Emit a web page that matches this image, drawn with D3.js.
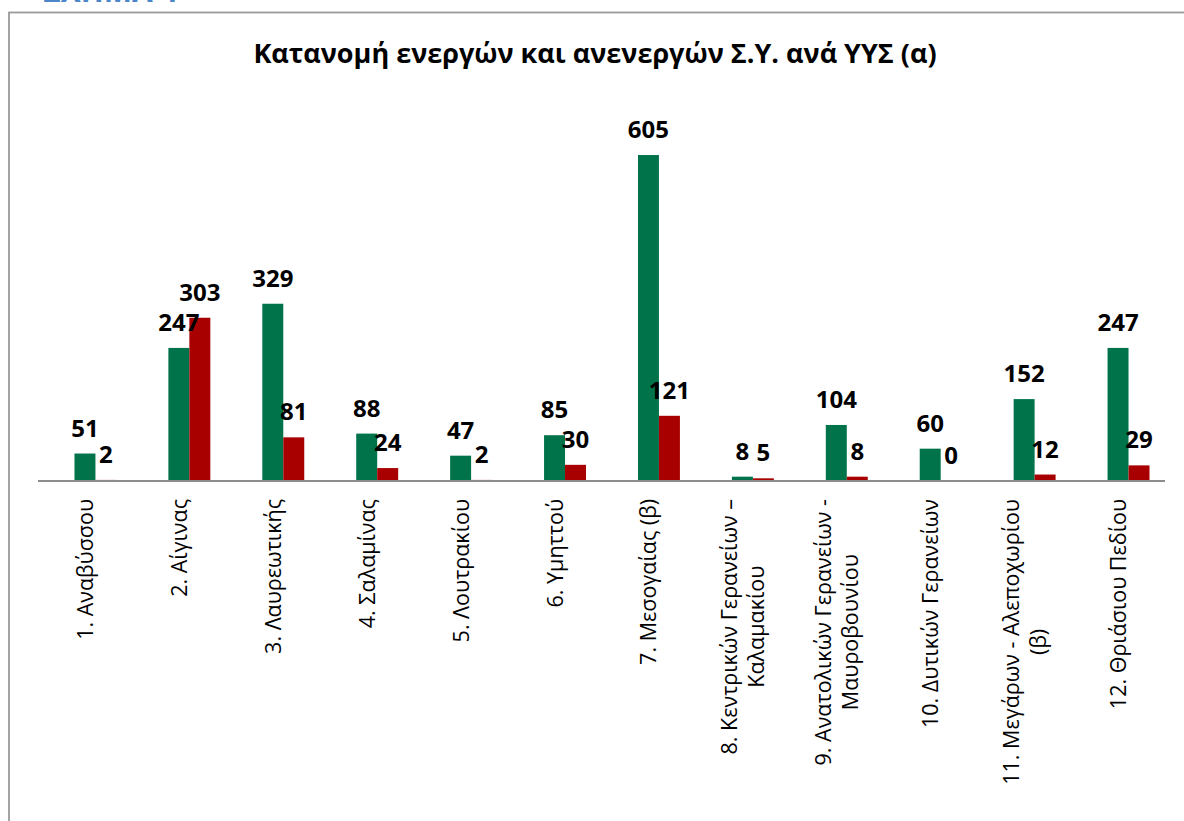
<!DOCTYPE html>
<html>
<head>
<meta charset="utf-8">
<script src="https://cdn.jsdelivr.net/npm/d3@7"></script>
<style>
  html, body { margin: 0; padding: 0; background: #fff; }
  svg { display: block; }
</style>
</head>
<body>
<svg id="chart" width="1184" height="821"></svg>
<script>
// δεδομένα
const categories = [
  "1. Αναβύσσου",
  "2. Αίγινας",
  "3. Λαυρεωτικής",
  "4. Σαλαμίνας",
  "5. Λουτρακίου",
  "6. Υμηττού",
  "7. Μεσογαίας (β)",
  "8. Κεντρικών Γερανείων –\nΚαλαμακίου",
  "9. Ανατολικών Γερανείων -\nΜαυροβουνίου",
  "10. Δυτικών Γερανείων",
  "11. Μεγάρων - Αλεποχωρίου\n(β)",
  "12. Θριάσιου Πεδίου"
];
const active   = [51, 247, 329, 88, 47, 85, 605, 8, 104, 60, 152, 247];
const inactive = [2, 303, 81, 24, 2, 30, 121, 5, 8, 0, 12, 29];
const seriesKeys = ["blank", "active", "inactive"];
const title = "Κατανομή ενεργών και ανενεργών Σ.Υ. ανά ΥΥΣ (α)";

const colors = { active: "#00734b", inactive: "#a80000" };
const font = "'Open Sans', 'Noto Sans', sans-serif";

const svg = d3.select("#chart");

// κεφαλίδα (κομμένη στην κορυφή)
svg.append("text")
  .attr("x", 43).attr("y", 1.5)
  .attr("font-family", font)
  .attr("font-size", "30px")
  .attr("font-weight", "700")
  .attr("fill", "#4a86c8")
  .text("ΣΧΗΜΑ 4");

// πλαίσιο
svg.append("rect")
  .attr("x", 9).attr("y", 12.5)
  .attr("width", 1300).attr("height", 900)
  .attr("fill", "#fff")
  .attr("stroke", "#9a9a9a")
  .attr("stroke-width", 1.8);

// τίτλος
svg.append("text")
  .attr("x", 595).attr("y", 63)
  .attr("text-anchor", "middle")
  .attr("font-family", font)
  .attr("font-size", "27px")
  .attr("font-weight", "700")
  .attr("fill", "#000")
  .text(title);

const axisLeft = 38, axisRight = 1165, baseY = 481;

const x0 = d3.scaleBand()
  .domain(categories)
  .range([axisLeft, axisRight])
  .paddingInner(0.33)
  .paddingOuter(0.165);

const x1 = d3.scaleBand()
  .domain(seriesKeys)
  .range([0, x0.bandwidth()]);

const y = d3.scaleLinear()
  .domain([0, 700])
  .range([baseY, baseY - 700 * 0.5388]);

const rows = categories.map((c, i) => ({ cat: c, active: active[i], inactive: inactive[i] }));

const groups = svg.append("g").selectAll("g")
  .data(rows)
  .join("g")
  .attr("transform", d => `translate(${x0(d.cat)},0)`);

// μπάρες
groups.selectAll("rect")
  .data(d => ["active", "inactive"].map(k => ({ key: k, value: d[k] })))
  .join("rect")
  .attr("x", d => x1(d.key))
  .attr("y", d => y(d.value))
  .attr("width", x1.bandwidth())
  .attr("height", d => baseY - y(d.value))
  .attr("fill", d => colors[d.key]);

// ετικέτες τιμών
groups.selectAll("text")
  .data(d => ["active", "inactive"].map(k => ({ key: k, value: d[k] })))
  .join("text")
  .attr("x", d => x1(d.key) + x1.bandwidth() / 2)
  .attr("y", d => y(d.value) - 17)
  .attr("text-anchor", "middle")
  .attr("font-family", font)
  .attr("font-size", "24px")
  .attr("font-weight", "700")
  .attr("fill", "#000")
  .text(d => d.value);

// άξονας
svg.append("line")
  .attr("x1", axisLeft).attr("x2", axisRight)
  .attr("y1", baseY).attr("y2", baseY)
  .attr("stroke", "#8c8c8c")
  .attr("stroke-width", 2);

// ετικέτες κατηγοριών (κάθετες)
const labelTop = 499, lineH = 27;
categories.forEach(c => {
  const lines = c.split("\n");
  const cx = x0(c) + x0.bandwidth() / 2;
  const g = svg.append("g").attr("transform", `translate(${cx},${labelTop}) rotate(-90)`);
  const texts = lines.map((ln, j) => g.append("text")
    .attr("font-family", font)
    .attr("font-size", "21.5px")
    .attr("fill", "#000")
    .attr("text-anchor", "middle")
    .attr("y", (j - (lines.length - 1) / 2) * lineH + 8)
    .text(ln));
  const maxW = d3.max(texts, t => t.node().getComputedTextLength());
  texts.forEach(t => t.attr("x", -maxW / 2));
});
</script>
</body>
</html>
